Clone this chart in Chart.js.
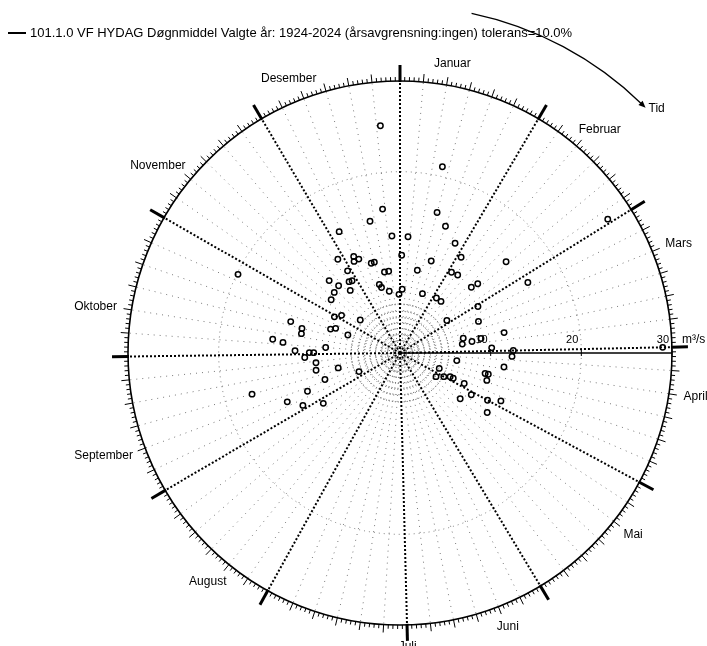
<!DOCTYPE html>
<html>
<head>
<meta charset="utf-8">
<script src="https://cdn.jsdelivr.net/npm/chart.js@4.4.1/dist/chart.umd.min.js"></script>
<style>
  html, body { margin: 0; padding: 0; background: #ffffff; }
  #wrap { width: 707px; height: 646px; }
</style>
</head>
<body>
<div id="wrap"><canvas id="flomChart" width="707" height="646"></canvas></div>
<script>
// Series header
const TITLE_TEXT = '101.1.0 VF HYDAG Døgnmiddel Valgte år: 1924-2024 (årsavgrensning:ingen) tolerans=10.0%';

// Angle axis: one slot per day of the year, Jan 1 at the top, clockwise
const DAYS_IN_YEAR = 365;
const MONTHS = ['Januar', 'Februar', 'Mars', 'April', 'Mai', 'Juni',
                'Juli', 'August', 'September', 'Oktober', 'November', 'Desember'];
const MONTH_START_DAYS = [0, 31, 59, 90, 120, 151, 181, 212, 243, 273, 304, 334];

// Radial axis (m³/s)
const FLOW_MAX = 30;
const AXIS_TICKS = [10, 20, 30];
const AXIS_UNIT = 'm³/s';
const RING_VALUES = [0, 0.35, 0.75, 1.2, 1.65, 2.15, 2.7, 3.3, 3.9, 4.6, 5.4, 20, 30];

// Flood events: day of year (0 = 1 Jan) and flow
const EVENT_DAYS = [
  360, 300, 358, 352, 338, 361, 1, 331, 339, 341,
  338, 347, 349, 332, 354, 357, 320, 329, 331, 322,
  348, 349, 2, 326, 317, 355, 364, 312, 13, 15,
  20, 4, 27, 58, 19, 33, 50, 12, 33, 37,
  49, 48, 62, 21, 34, 39, 60, 56, 69, 80,
  78, 82, 81, 83, 88, 90, 290, 288, 285, 303,
  307, 314, 293, 295, 293, 280, 279, 278, 275, 274,
  274, 271, 267, 262, 260, 249, 254, 258, 251, 250,
  245, 240, 93, 99, 99, 113, 125, 120, 117, 117,
  105, 105, 109, 117, 122, 129, 120, 117, 126, 90
];
const EVENT_FLOWS = [
  25.15, 19.86, 15.99, 14.9, 14.97, 12.93, 10.78, 12.41, 11.8, 11.31,
  11.3, 10.4, 10.41, 10.75, 9.09, 9.1, 11.17, 9.67, 9.56, 10.04,
  7.9, 7.5, 7.03, 8.82, 9.86, 6.91, 6.47, 9.6, 21.07, 16.02,
  14.86, 12.86, 13.55, 27.26, 10.72, 12.53, 15.43, 9.33, 10.56, 10.7,
  11.48, 10.7, 16.1, 7.0, 7.27, 7.27, 10.01, 6.29, 9.33, 11.7,
  7.16, 8.04, 9.07, 6.94, 10.13, 12.5, 12.54, 11.15, 11.08, 8.26,
  7.67, 5.7, 8.1, 7.6, 6.08, 14.12, 12.96, 8.22, 11.58, 10.0,
  9.52, 10.52, 9.33, 9.45, 7.01, 4.97, 8.78, 16.94, 11.04, 13.55,
  12.17, 10.12, 12.36, 11.57, 6.32, 4.65, 4.75, 5.49, 6.12, 6.5,
  9.66, 10.02, 10.04, 7.84, 9.11, 8.34, 10.97, 12.32, 11.64, 28.98
];

const FONT_FAMILY = '"Liberation Sans", Arial, sans-serif';
// days after the month start where each month name sits
const LABEL_ANCHOR_OFFSETS = [10, 10, 10, 10, 10, 10, 0, 10, 10, 10, 10, 10];

function monthStartOf(day) {
  let start = 0;
  MONTH_START_DAYS.forEach(s => { if (day >= s) start = s; });
  return start;
}

function isMonthStart(day) {
  return MONTH_START_DAYS.includes(day);
}

function isFiveDayMark(day) {
  const dom = day - monthStartOf(day);
  return !isMonthStart(day) && dom % 5 === 0 && dom < 30;
}

// Radar charts take one value per label, so events falling on the same day
// go into extra datasets with identical styling
function buildDatasets() {
  const slots = [];
  EVENT_DAYS.forEach((day, i) => {
    let slot = slots.find(s => s[day] === null);
    if (!slot) {
      slot = new Array(DAYS_IN_YEAR).fill(null);
      slots.push(slot);
    }
    slot[day] = EVENT_FLOWS[i];
  });
  return slots.map((data, i) => ({
    label: i === 0 ? TITLE_TEXT : '',
    data: data,
    showLine: false,
    fill: false,
    borderWidth: 0,
    borderColor: 'rgba(0,0,0,0)',
    backgroundColor: 'rgba(0,0,0,0)',
    pointStyle: 'circle',
    pointRadius: 2.7,
    pointBorderWidth: 1.5,
    pointBorderColor: '#000000',
    pointBackgroundColor: 'rgba(0,0,0,0)',
    pointHoverRadius: 2.7
  }));
}

// Outer day ticks, flow axis, month names, time arrow and header
const polarDecor = {
  id: 'polarDecor',
  beforeDatasetsDraw(chart) {
    const r = chart.scales.r;
    const ctx = chart.ctx;
    const R = r.drawingArea;
    const cx = r.xCenter;
    const cy = r.yCenter;

    ctx.save();
    ctx.strokeStyle = '#000000';
    ctx.lineCap = 'butt';

    // day ticks round the rim
    for (let d = 0; d < DAYS_IN_YEAR; d++) {
      let inner = R, outer = R + 4, lw = 1;
      if (isMonthStart(d)) { inner = R - 1; outer = R + 16; lw = 3; }
      else if (isFiveDayMark(d)) { outer = R + 8; }
      const p1 = r.getPointPosition(d, inner);
      const p2 = r.getPointPosition(d, outer);
      ctx.lineWidth = lw;
      ctx.beginPath();
      ctx.moveTo(p1.x, p1.y);
      ctx.lineTo(p2.x, p2.y);
      ctx.stroke();
    }

    // flow axis towards 3 o'clock
    ctx.lineWidth = 1.6;
    ctx.beginPath();
    ctx.moveTo(cx, cy);
    ctx.lineTo(cx + R, cy);
    ctx.stroke();

    ctx.font = '11px ' + FONT_FAMILY;
    ctx.fillStyle = '#000000';
    ctx.textAlign = 'right';
    ctx.textBaseline = 'bottom';
    AXIS_TICKS.forEach(v => {
      const x = cx + r.getDistanceFromCenterForValue(v);
      ctx.lineWidth = 1;
      ctx.beginPath();
      ctx.moveTo(x, cy - 4);
      ctx.lineTo(x, cy + 3);
      ctx.stroke();
      ctx.fillText(String(v), x - 3, cy - 8);
    });
    ctx.font = '12px ' + FONT_FAMILY;
    ctx.textAlign = 'left';
    ctx.fillText(AXIS_UNIT, cx + R + 10, cy - 7);

    // centre dot
    ctx.beginPath();
    ctx.arc(cx, cy, 1.6, 0, Math.PI * 2);
    ctx.fill();

    // month names
    ctx.font = '12px ' + FONT_FAMILY;
    ctx.textAlign = 'center';
    ctx.textBaseline = 'middle';
    MONTHS.forEach((name, i) => {
      const idx = MONTH_START_DAYS[i] + LABEL_ANCHOR_OFFSETS[i];
      const a = r.getIndexAngle(idx);
      const p = r.getPointPosition(idx, R + 15);
      const w = ctx.measureText(name).width;
      const h = 13;
      ctx.fillText(name, p.x + Math.sin(a) * w / 2, p.y - Math.cos(a) * h / 2);
    });

    // "Tid" arrow: arc round the centre, clockwise
    const arcR = R * 1.276;
    const a0 = 11.9 * Math.PI / 180 - Math.PI / 2;
    const a1 = 44.2 * Math.PI / 180 - Math.PI / 2;
    ctx.lineWidth = 1.3;
    ctx.beginPath();
    ctx.arc(cx, cy, arcR, a0, a1);
    ctx.stroke();
    const ex = cx + arcR * Math.cos(a1);
    const ey = cy + arcR * Math.sin(a1);
    const tx = -Math.sin(a1), ty = Math.cos(a1);
    const nx = Math.cos(a1), ny = Math.sin(a1);
    ctx.beginPath();
    ctx.moveTo(ex + tx * 5, ey + ty * 5);
    ctx.lineTo(ex - tx * 2 + nx * 3, ey - ty * 2 + ny * 3);
    ctx.lineTo(ex - tx * 2 - nx * 3, ey - ty * 2 - ny * 3);
    ctx.closePath();
    ctx.fill();
    ctx.textAlign = 'left';
    ctx.fillText('Tid', ex + tx * 5 + 3, ey + ty * 5 + 1);

    // header with series line
    ctx.lineWidth = 2;
    ctx.beginPath();
    ctx.moveTo(8, 33);
    ctx.lineTo(26, 33);
    ctx.stroke();
    ctx.font = '13px ' + FONT_FAMILY;
    ctx.textBaseline = 'middle';
    ctx.fillText(TITLE_TEXT, 30, 33);

    ctx.restore();
  }
};

const ctx = document.getElementById('flomChart').getContext('2d');
new Chart(ctx, {
  type: 'radar',
  data: {
    labels: Array.from({ length: DAYS_IN_YEAR }, (_, i) => i + 1),
    datasets: buildDatasets()
  },
  plugins: [polarDecor],
  options: {
    responsive: false,
    animation: false,
    events: [],
    layout: {
      padding: { left: 128, right: 35, top: 81, bottom: 21 }
    },
    plugins: {
      legend: { display: false },
      tooltip: { enabled: false }
    },
    scales: {
      r: {
        min: 0,
        max: FLOW_MAX,
        startAngle: 0,
        afterBuildTicks: (scale) => {
          scale.ticks = RING_VALUES.map(v => ({ value: v }));
        },
        ticks: { display: false },
        pointLabels: { display: false },
        grid: {
          circular: true,
          color: (c) => {
            if (c.tick && c.tick.value === FLOW_MAX) return '#000000';
            if (c.tick && c.tick.value >= 10) return '#777777';
            return '#444444';
          },
          lineWidth: (c) => (c.tick && c.tick.value === FLOW_MAX) ? 1.6 : 1
        },
        border: {
          dash: (c) => {
            if (c.tick && c.tick.value === FLOW_MAX) return [];
            if (c.tick && c.tick.value >= 10) return [1, 4];
            return [1, 2];
          }
        },
        angleLines: {
          color: (c) => isMonthStart(c.index) ? '#000000' : '#777777',
          lineWidth: (c) => isMonthStart(c.index) ? 2 : (isFiveDayMark(c.index) ? 1 : 0),
          borderDash: (c) => isMonthStart(c.index) ? [2, 2] : [1, 5]
        }
      }
    }
  }
});
</script>
</body>
</html>
